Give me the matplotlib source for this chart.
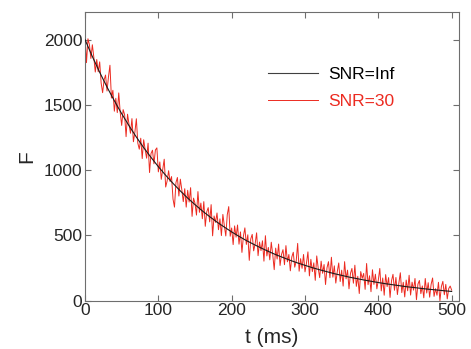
import matplotlib
matplotlib.use('Agg')
import numpy as np
import matplotlib.pyplot as plt

plt.rcParams['font.family'] = ['Liberation Sans', 'DejaVu Sans']

# noise-free decay, sampled every 10 ms
t_clean = list(range(0, 501, 10))
f_clean = [2000, 1871, 1750, 1637, 1532, 1433, 1341, 1254, 1173, 1098,
           1027, 961, 899, 841, 786, 736, 688, 644, 602, 564,
           527, 493, 461, 432, 404, 378, 353, 331, 309, 289,
           271, 253, 237, 222, 207, 194, 181, 170, 159, 149,
           139, 130, 122, 114, 106, 100, 93, 87, 82, 76, 71]

# noisy trace (SNR=30), sampled every 2 ms
t_noisy = list(range(0, 501, 2))
f_noisy = [2030, 1824, 2007, 1962, 1856, 1961, 1866, 1752, 1848, 1754,
           1830, 1667, 1594, 1692, 1729, 1607, 1716, 1804, 1553, 1612,
           1452, 1551, 1441, 1592, 1442, 1343, 1464, 1425, 1257, 1429,
           1351, 1283, 1395, 1218, 1291, 1394, 1208, 1161, 1245, 1089,
           1233, 1158, 1092, 1207, 982, 1128, 1153, 1049, 1155, 1171,
           987, 1063, 930, 1007, 1084, 871, 918, 996, 913, 951,
           779, 717, 905, 944, 802, 931, 850, 759, 858, 717,
           846, 756, 866, 646, 786, 746, 656, 836, 677, 748,
           628, 759, 570, 681, 713, 604, 736, 497, 649, 600,
           672, 544, 627, 499, 661, 574, 496, 659, 721, 494,
           557, 430, 573, 487, 580, 433, 527, 370, 494, 558,
           431, 505, 309, 473, 508, 382, 436, 520, 345, 449,
           384, 459, 303, 498, 343, 408, 313, 448, 353, 238,
           403, 319, 434, 270, 355, 391, 276, 422, 298, 354,
           229, 335, 371, 257, 303, 439, 226, 322, 248, 354,
           221, 287, 374, 190, 317, 223, 290, 156, 343, 250,
           177, 303, 210, 277, 124, 252, 299, 176, 333, 180,
           267, 135, 222, 289, 147, 234, 112, 299, 167, 234,
           91, 209, 247, 134, 272, 110, 187, 55, 223, 171,
           209, 87, 285, 123, 191, 69, 237, 125, 203, 91,
           159, 247, 75, 174, 42, 200, 108, 177, 25, 153,
           202, 80, 178, 47, 135, 214, 62, 141, 29, 158,
           76, 195, 43, 142, 81, 170, 8, 127, 155, 54,
           113, 22, 170, 59, 138, 27, 126, 174, 33, 92,
           42, 141, 0, 109, 148, 46, 125, 14, 93, 112, 81]

x_ticks = [0, 100, 200, 300, 400, 500]
y_ticks = [0, 500, 1000, 1500, 2000]

red = '#ec2a20'
axis_grey = '#6e6e6e'

fig = plt.figure(figsize=(4.71, 3.49), dpi=100)
ax = fig.add_axes([0.1805, 0.1384, 0.794, 0.8272])

ax.plot(t_clean, f_clean, color='#1a1a1a', lw=0.8, label='SNR=Inf', zorder=3)
ax.plot(t_noisy, f_noisy, color=red, lw=0.7, label='SNR=30', zorder=2)

ax.set_xlim(0, 510)
ax.set_ylim(0, 2212)
ax.set_xticks(x_ticks)
ax.set_yticks(y_ticks)
ax.tick_params(direction='in', length=4, width=0.8, colors=axis_grey,
               labelcolor='#262626', labelsize=12.5, top=True, right=True, pad=2)
for s in ax.spines.values():
    s.set_color(axis_grey)
    s.set_linewidth(0.8)

ax.set_xlabel('t (ms)', fontsize=15, color='#262626', labelpad=6.5)
ax.set_ylabel('F', fontsize=15, color='#262626', labelpad=5)

leg = ax.legend(loc='upper left', bbox_to_anchor=(0.489, 0.81), frameon=False,
                fontsize=12.5, handlelength=2.9, handletextpad=0.6,
                labelspacing=0.7, borderpad=0, borderaxespad=0)
leg.get_lines()[0].set_color('#404040')
leg.get_texts()[1].set_color(red)

fig.savefig('out.png', dpi=100)
